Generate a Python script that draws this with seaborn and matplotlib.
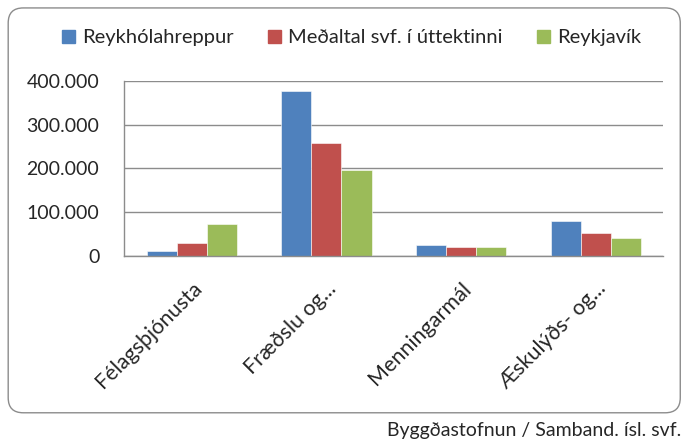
import matplotlib.pyplot as plt
import matplotlib.patches as mpatches
import matplotlib.ticker as mticker
import pandas as pd
import seaborn as sns

# ── Data ─────────────────────────────────────────────────────────────────────
categories = ["Félagsþjónusta", "Fræðslu og...", "Menningarmál", "Æskulýðs- og..."]
series = ["Reykhólahreppur", "Meðaltal svf. í úttektinni", "Reykjavík"]
reykholahreppur = [13000, 376000, 26000, 81000]
medaltal = [29000, 257000, 22000, 54000]
reykjavik = [74000, 196000, 22000, 41000]
yticks = [0, 100000, 200000, 300000, 400000]

COLORS = ["#4F81BD", "#C0504D", "#9BBB59"]
GRID = "#8C8C8C"
FONT = "Lato"

df = pd.DataFrame({
    "flokkur": categories * 3,
    "röð": [s for s in series for _ in categories],
    "gildi": reykholahreppur + medaltal + reykjavik,
})

sns.set_style("white")
plt.rcParams["font.family"] = [FONT, "DejaVu Sans"]

fig = plt.figure(figsize=(6.83, 4.41), dpi=100)
ax = fig.add_axes([0.182, 0.419, 0.789, 0.398])

sns.barplot(data=df, x="flokkur", y="gildi", hue="röð", order=categories,
            hue_order=series, palette=COLORS, saturation=1, width=0.67,
            ax=ax, edgecolor="#FFFFFF", linewidth=0.4, legend=False)

ax.set_ylim(0, 400000)
ax.set_xlim(-0.5, len(categories) - 0.5)
ax.set_yticks(yticks)
ax.yaxis.set_major_formatter(mticker.FuncFormatter(
    lambda v, _: f"{int(v):,}".replace(",", ".")))
ax.grid(axis="y", color=GRID, linewidth=1.0)
ax.set_axisbelow(True)

# category ticks at the boundaries, labels centred under each group
ax.set_xticks([i - 0.5 for i in range(len(categories) + 1)])
ax.set_xticklabels([])
ax.set_xticks(range(len(categories)), minor=True)
ax.set_xticklabels(categories, minor=True, rotation=45, ha="right",
                   rotation_mode="anchor", fontsize=15.5)
ax.tick_params(axis="x", which="minor", length=0, pad=16)
ax.tick_params(axis="x", which="major", length=7, color=GRID, width=1)
ax.tick_params(axis="y", length=7, color=GRID, width=1, labelsize=14, pad=11)

for side in ["top", "right"]:
    ax.spines[side].set_visible(False)
for side in ["left", "bottom"]:
    ax.spines[side].set_color(GRID)
    ax.spines[side].set_linewidth(1)
ax.set_xlabel("")
ax.set_ylabel("")

handles = [mpatches.Patch(color=c, label=s) for c, s in zip(COLORS, series)]
fig.legend(handles=handles, loc="center", bbox_to_anchor=(0.515, 0.914),
           ncol=3, frameon=False, fontsize=14.5, handlelength=0.65,
           handleheight=0.65, handletextpad=0.35, columnspacing=1.7)

# rounded chart frame
frame = mpatches.FancyBboxPatch(
    (0.012, 0.064), 0.984, 0.918, boxstyle="round,pad=0,rounding_size=0.022",
    transform=fig.transFigure, facecolor="none", edgecolor="#8C8C8C",
    linewidth=1.0, mutation_aspect=683 / 441)
fig.patches.append(frame)

fig.text(0.997, 0.024, "Byggðastofnun / Samband. ísl. svf.", ha="right",
         va="center", fontsize=14)

fig.savefig("out.png", dpi=100)
